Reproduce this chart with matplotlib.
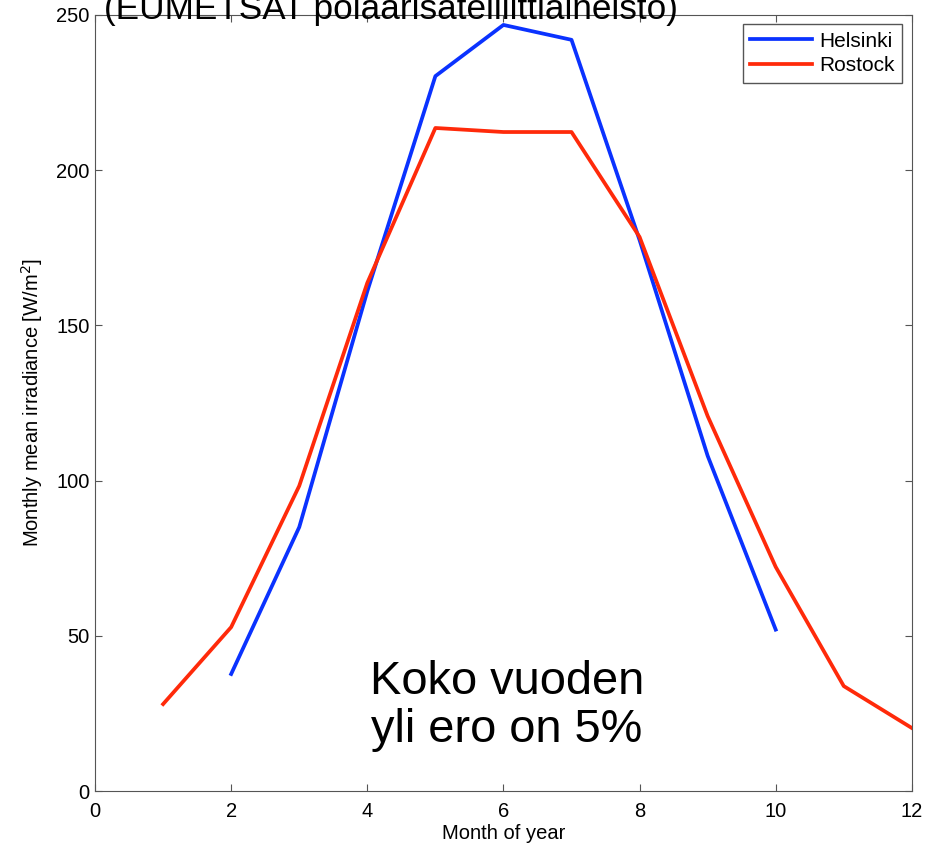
import matplotlib.pyplot as plt

plt.rcParams['font.family'] = ['Liberation Sans', 'DejaVu Sans']

# Monthly mean irradiance [W/m^2]
helsinki_months = [2, 3, 4, 5, 6, 7, 8, 9, 10]
helsinki_vals = [37.7, 85, 161, 230.3, 246.8, 242, 177.5, 108, 52]
rostock_months = [1, 2, 3, 4, 5, 6, 7, 8, 9, 10, 11, 12]
rostock_vals = [28, 52.8, 98.3, 163.7, 213.6, 212.3, 212.3, 178.5, 120.8, 72.2, 33.8, 20.3]

fig = plt.figure(figsize=(9.41, 8.47), dpi=100)
ax = fig.add_axes([0.101, 0.0661, 0.868, 0.9162])

ax.plot(helsinki_months, helsinki_vals, color='#0a32ff', linewidth=2.7, label='Helsinki')
ax.plot(rostock_months, rostock_vals, color='#ff2a0a', linewidth=2.7, label='Rostock')

ax.set_xlim(0, 12)
ax.set_ylim(0, 250)
ax.set_xticks(range(0, 13, 2))
ax.set_yticks(range(0, 251, 50))
ax.tick_params(direction='in', top=True, right=True, labelsize=14.5, length=5, color='#555555')
ax.tick_params(axis='x', pad=8)
ax.tick_params(axis='y', pad=4)
for s in ax.spines.values():
    s.set_color('#555555')

ax.set_xlabel('Month of year', fontsize=14.5, labelpad=2)
ax.set_ylabel('Monthly mean irradiance [W/m$^2$]', fontsize=14.5, labelpad=8)

leg = ax.legend(loc='upper right', fontsize=15, handlelength=3.0, fancybox=False,
                edgecolor='#555555', borderaxespad=0.45, labelspacing=0.28,
                handletextpad=0.35, borderpad=0.35, framealpha=1)
leg.get_frame().set_linewidth(1.0)

ax.text(6.05, 27.3, 'Koko vuoden\nyli ero on 5%', fontsize=33.8, ha='center', va='center',
        linespacing=1.13)

fig.text(0.415, 1 - 19 / 847, '(EUMETSAT polaarisatelliittiaineisto)', fontsize=25.3,
         ha='center', va='baseline')

fig.savefig('out.png', dpi=100)
